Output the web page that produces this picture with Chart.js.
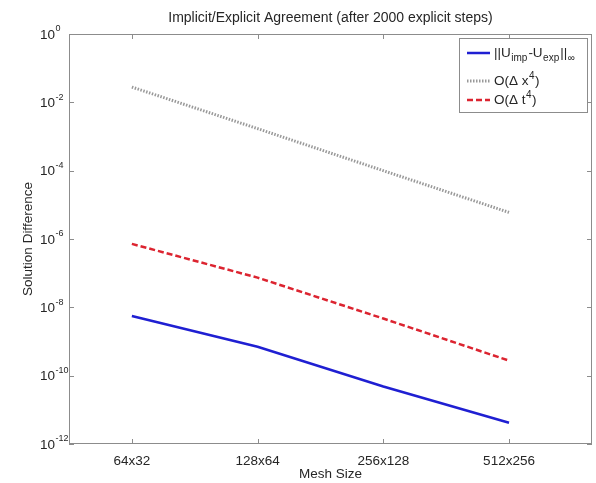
<!DOCTYPE html>
<html>
<head>
<meta charset="utf-8">
<script src="https://cdn.jsdelivr.net/npm/chart.js@4.4.1/dist/chart.umd.min.js"></script>
<style>
  body { margin: 0; background: #fff; }
</style>
</head>
<body>
<canvas id="conv" width="596" height="483"></canvas>
<script>
// values (log scale)
const meshLabels = ['64x32', '128x64', '256x128', '512x256'];
const diffValues = [5.6e-9, 7.0e-10, 4.8e-11, 4.2e-12];   // ||U_imp - U_exp||_inf
const dxValues = [2.8e-2, 1.7e-3, 1.0e-4, 6.0e-6];        // O(dx^4)
const dtValues = [7.2e-7, 7.4e-8, 4.7e-9, 2.75e-10];      // O(dt^4)
const yExponents = [0, -2, -4, -6, -8, -10, -12];

const FONT = "'Liberation Sans', Arial, sans-serif";
const AXIS_GRAY = '#8c8c8c';
const TEXT = '#262626';

function points(vals) {
  return vals.map((v, i) => ({ x: i + 1, y: v }));
}

// matlab-ish box with inward ticks, and 10^n labels on the log axis
const boxTicks = {
  id: 'boxTicks',
  beforeDatasetsDraw(chart) {
    const { ctx, chartArea: a, scales } = chart;
    ctx.save();
    ctx.strokeStyle = AXIS_GRAY;
    ctx.lineWidth = 1;
    ctx.strokeRect(a.left + 0.5, a.top + 0.5, a.right - a.left - 1, a.bottom - a.top - 1);
    ctx.beginPath();
    meshLabels.forEach((_, i) => {
      const px = Math.round(scales.x.getPixelForValue(i + 1)) + 0.5;
      ctx.moveTo(px, a.bottom); ctx.lineTo(px, a.bottom - 5);
      ctx.moveTo(px, a.top); ctx.lineTo(px, a.top + 5);
    });
    yExponents.forEach(e => {
      const py = Math.round(scales.y.getPixelForValue(Math.pow(10, e))) + 0.5;
      ctx.moveTo(a.left, py); ctx.lineTo(a.left + 5, py);
      ctx.moveTo(a.right, py); ctx.lineTo(a.right - 5, py);
    });
    ctx.stroke();

    ctx.fillStyle = TEXT;
    ctx.textBaseline = 'middle';
    const bx = a.left - 14;
    yExponents.forEach(e => {
      const py = scales.y.getPixelForValue(Math.pow(10, e));
      ctx.font = '13.5px ' + FONT;
      ctx.textAlign = 'right';
      ctx.fillText('10', bx, py + 1);
      ctx.font = '9px ' + FONT;
      ctx.textAlign = 'left';
      ctx.fillText(String(e), bx + 0.5, py - 5);
    });
    ctx.restore();
  }
};

// legend with sub/superscripts, drawn in the upper right corner
const legendRows = [
  { ds: 0, y: 53, parts: [['||U', 0], ['imp', -1], ['-U', 0], ['exp', -1], ['||', 0], ['∞', -1]] },
  { ds: 1, y: 81, parts: [['O(Δ x', 0], ['4', 1], [')', 0]] },
  { ds: 2, y: 100, parts: [['O(Δ t', 0], ['4', 1], [')', 0]] }
];

const texLegend = {
  id: 'texLegend',
  afterDatasetsDraw(chart) {
    const ctx = chart.ctx;
    ctx.save();
    ctx.fillStyle = '#fff';
    ctx.fillRect(459, 38, 128, 74);
    ctx.strokeStyle = AXIS_GRAY;
    ctx.lineWidth = 1;
    ctx.strokeRect(459.5, 38.5, 128, 74);
    legendRows.forEach(row => {
      const ds = chart.data.datasets[row.ds];
      ctx.beginPath();
      ctx.strokeStyle = ds.borderColor;
      ctx.lineWidth = ds.borderWidth;
      ctx.setLineDash(ds.borderDash || []);
      ctx.moveTo(467, row.y);
      ctx.lineTo(490, row.y);
      ctx.stroke();
      ctx.setLineDash([]);
      let x = 494;
      ctx.fillStyle = TEXT;
      ctx.textBaseline = 'middle';
      row.parts.forEach(([t, s]) => {
        ctx.font = (s === 0 ? '13.5px ' : '10px ') + FONT;
        const dy = s === 0 ? 0 : (s < 0 ? 5 : -5);
        ctx.fillText(t, x, row.y + dy);
        x += ctx.measureText(t).width + (s < 0 ? 1 : 0.5);
      });
    });
    ctx.restore();
  }
};

const config = {
  type: 'line',
  data: {
    datasets: [
      {
        label: '||Uimp-Uexp||∞',
        data: points(diffValues),
        borderColor: '#1f1fd2',
        borderWidth: 2.5,
        pointRadius: 0
      },
      {
        label: 'O(Δ x4)',
        data: points(dxValues),
        borderColor: '#999999',
        borderWidth: 3,
        borderDash: [1.5, 1.5],
        pointRadius: 0
      },
      {
        label: 'O(Δ t4)',
        data: points(dtValues),
        borderColor: '#dc2430',
        borderWidth: 2.5,
        borderDash: [6, 3],
        pointRadius: 0
      }
    ]
  },
  options: {
    responsive: false,
    animation: false,
    layout: { padding: { left: 40, right: 4, top: 0, bottom: 0 } },
    plugins: {
      legend: { display: false },
      tooltip: { enabled: false },
      title: {
        display: true,
        fullSize: false,
        text: 'Implicit/Explicit Agreement (after 2000 explicit steps)',
        color: TEXT,
        font: { family: FONT, size: 14, weight: 'normal' },
        padding: { top: 9.6, bottom: 7.6 }
      }
    },
    scales: {
      x: {
        type: 'linear',
        min: 0.5,
        max: 4.66,
        grid: { display: false, drawTicks: false },
        border: { display: false },
        afterBuildTicks: s => { s.ticks = meshLabels.map((_, i) => ({ value: i + 1 })); },
        afterFit: s => { s.height = 39; },
        ticks: {
          padding: 9,
          color: TEXT,
          font: { family: FONT, size: 13.5 },
          callback: v => meshLabels[v - 1]
        },
        title: {
          display: true,
          text: 'Mesh Size',
          color: TEXT,
          font: { family: FONT, size: 13.5 },
          padding: { top: 0, bottom: 1 }
        }
      },
      y: {
        type: 'logarithmic',
        min: 1e-12,
        max: 1,
        grid: { display: false, drawTicks: false },
        border: { display: false },
        afterBuildTicks: s => { s.ticks = yExponents.map(e => ({ value: Math.pow(10, e) })); },
        afterFit: s => { s.width = 29; },
        ticks: { display: false },
        title: {
          display: true,
          text: 'Solution Difference',
          color: TEXT,
          font: { family: FONT, size: 13.5 },
          padding: { top: -20, bottom: 0 }
        }
      }
    }
  },
  plugins: [boxTicks, texLegend]
};

new Chart(document.getElementById('conv'), config);
</script>
</body>
</html>
